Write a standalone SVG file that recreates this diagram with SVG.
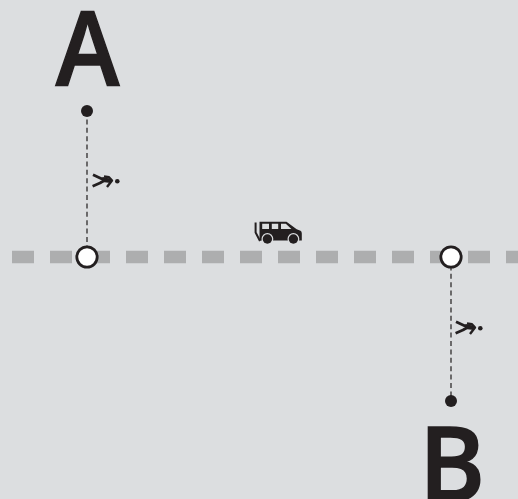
<svg xmlns="http://www.w3.org/2000/svg" width="518" height="499" viewBox="0 0 518 499">
<defs>
<style>
.road{stroke:#adaeaf;stroke-width:12.5;fill:none;stroke-dasharray:22 16}
.path{stroke:#2f2c2d;stroke-width:1.3;fill:none;stroke-dasharray:5 3.4}
.stop{fill:#fff;stroke:#231f20;stroke-width:2.8}
.dot{fill:#231f20}
.big{font-family:"Open Sans","Liberation Sans",sans-serif;font-weight:600;font-size:103.5px;fill:#231f20;stroke:#231f20;stroke-width:1.5;text-anchor:middle}
.limb{stroke:#231f20;fill:none;stroke-linejoin:round}
</style>
<g id="walker">
<path class="limb" stroke-width="2.8" d="M0 -0.2 L8 3.6 L13 3.6 M-0.4 11.2 L7 8 L12 5"/>
<path class="limb" stroke-width="4.4" d="M9.5 4.8 L18 5.8"/>
<path class="limb" stroke-width="2.4" d="M11 1.4 L16 2.2 L19 5.5 L14 12"/>
<circle cx="24.3" cy="6.2" r="2.3" fill="#231f20"/>
</g>
</defs>
<rect width="518" height="499" fill="#dcdee0"/>
<g id="connectors">
<line class="road" x1="12" y1="257" x2="518" y2="257"/>
<line class="path" x1="87" y1="111" x2="87" y2="257"/>
<line class="path" x1="451" y1="257" x2="451" y2="401"/>
</g>
<g id="node-a">
<text class="big" transform="translate(87.5 86.3) scale(.93 1)">A</text>
<circle class="dot" cx="87" cy="111" r="6"/>
<use href="#walker" x="93" y="175"/>
<circle class="stop" cx="87" cy="257" r="10.2"/>
</g>
<g id="node-b">
<text class="big" transform="translate(452 500.5) scale(.97 1)">B</text>
<circle class="dot" cx="451" cy="401" r="6"/>
<use href="#walker" x="456" y="322"/>
<circle class="stop" cx="451" cy="257" r="10.2"/>
</g>
<g id="van">
<path fill="#231f20" d="M259.5 221.7H286.5L296.7 229.2L300.5 230.8Q301.8 231.5 301.8 233.5V240.5H259.5Z"/>
<path fill="none" stroke="#231f20" stroke-width="2" d="M255.6 222.4V232.5L260 241"/>
<path fill="#dcdee0" d="M262.2 223.8H269H262.2V229H269V223.8ZM271.8 223.8H278.2V229H271.8ZM281 223.8H285.8L291.4 229H281Z"/>
<circle cx="267.4" cy="239" r="5.9" fill="#dcdee0"/>
<circle cx="293.4" cy="239" r="5.9" fill="#dcdee0"/>
<circle cx="267.4" cy="239" r="4.7" fill="#231f20"/>
<circle cx="293.4" cy="239" r="4.7" fill="#231f20"/>
</g>
</svg>
